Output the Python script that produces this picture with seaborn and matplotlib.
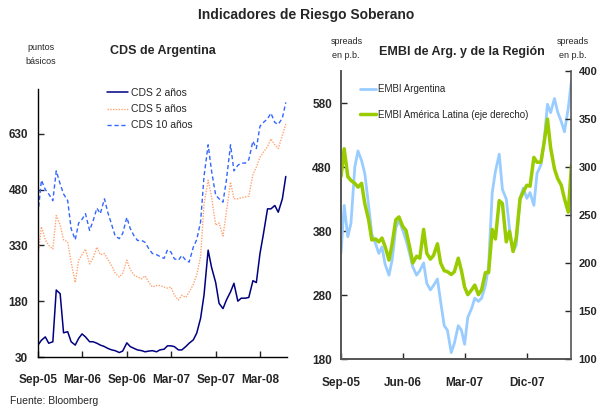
import pandas as pd
import seaborn as sns
from matplotlib import pyplot as plt

sns.set_style("ticks")
plt.rcParams['font.family'] = ['Liberation Sans', 'DejaVu Sans']

# quincenas (1 y 15 de cada mes) de sep-05 a jun-08
fechas = pd.date_range("2005-09-01", periods=68, freq="SMS")

cds_2 = [62, 75, 84, 67, 71, 210, 200, 95, 98, 71, 62, 80, 92, 84, 71, 71, 67, 62,
         58, 53, 49, 47, 42, 46, 68, 58, 53, 49, 47, 44, 46, 47, 44, 49, 51,
         60, 60, 58, 49, 49, 58, 67, 76, 94, 134, 196, 317, 271, 230, 174, 160,
         183, 205, 228, 180, 188, 188, 190, 235, 230, 308, 360, 428, 428, 437,
         419, 455, 515]
cds_5 = [300, 380, 345, 330, 320, 410, 385, 345, 339, 285, 230, 290, 305, 320,
         280, 295, 325, 305, 308, 292, 275, 255, 245, 255, 290, 265, 250, 245,
         240, 248, 230, 218, 222, 222, 218,
         215, 218, 196, 183, 196, 190, 205, 225, 250, 300, 440, 505, 460, 384,
         390, 355, 420, 500, 455, 455, 458, 460, 462, 520, 540, 567, 580, 595,
         616, 600, 590, 625, 656]
cds_10 = [415, 505, 480, 468, 450, 530, 495, 468, 450, 375, 345, 390, 400, 415,
          370, 395, 430, 415, 455, 418, 385, 355, 348, 362, 405, 375, 355, 343,
          343, 338, 320, 308, 305, 300, 295,
          318, 312, 294, 290, 303, 290, 285, 325, 345, 393, 515, 600, 530, 465,
          455, 446, 505, 600, 530, 545, 551, 551, 560, 610, 590, 650, 660, 670,
          685, 660, 655, 672, 714]

embi_arg = [345, 420, 371, 392, 480, 505, 490, 470, 420, 375, 360, 345, 355, 328,
            311, 335, 385, 397, 381, 366, 345, 324, 311, 318, 330, 298, 288, 295,
            305, 270, 232, 225, 190, 205, 232, 225, 203,
            245, 259, 275, 270, 275, 295, 325, 440, 473, 500, 445, 430, 385, 348,
            358, 431, 447, 431, 440, 420, 470, 483, 520, 578, 565, 587, 566, 551,
            535, 572, 615]
embi_latam = [290, 319, 290, 286, 283, 279, 283, 262, 245, 224, 225, 222, 226, 217,
              203, 220, 245, 248, 238, 234, 217, 200, 207, 205, 235, 210, 204, 208,
              220, 200, 192, 191, 188,
              191, 205, 192, 175, 167, 172, 177, 167, 172, 190, 190, 235, 225, 265,
              262, 222, 233, 212, 226, 267, 274, 281, 280, 310, 305, 305, 325, 350,
              320, 298, 288, 281, 267, 253, 302]

ticks_izq = ["2005-09-01", "2006-03-01", "2006-09-01", "2007-03-01", "2007-09-01", "2008-03-01"]
labels_izq = ["Sep-05", "Mar-06", "Sep-06", "Mar-07", "Sep-07", "Mar-08"]
ticks_der = ["2005-09-01", "2006-06-01", "2007-03-01", "2007-12-01"]
labels_der = ["Sep-05", "Jun-06", "Mar-07", "Dic-07"]

df_cds = pd.DataFrame({"fecha": fechas, "cds2": cds_2, "cds5": cds_5, "cds10": cds_10})
df_embi = pd.DataFrame({"fecha": fechas, "arg": embi_arg, "latam": embi_latam})

fig = plt.figure(figsize=(6, 4.09), dpi=100)

# --- CDS de Argentina ---
ax1 = fig.add_axes([38 / 600, 52 / 409, 249 / 600, 268 / 409])
sns.lineplot(data=df_cds, x="fecha", y="cds2", ax=ax1, color="#000080", lw=1.1,
             label="CDS 2 años", legend=False)
sns.lineplot(data=df_cds, x="fecha", y="cds5", ax=ax1, color="#FFA573", lw=1.0,
             ls=(0, (1, 1)), label="CDS 5 años", legend=False)
sns.lineplot(data=df_cds, x="fecha", y="cds10", ax=ax1, color="#3366FF", lw=1.0,
             ls=(0, (3, 2)), label="CDS 10 años", legend=False)
ax1.set_xlim(pd.Timestamp("2005-09-01"), pd.Timestamp("2008-06-20"))
ax1.set_ylim(30, 750)
ax1.set_yticks([30, 180, 330, 480, 630])
ax1.set_xticks(pd.to_datetime(ticks_izq), labels_izq)
ax1.set_xlabel("")
ax1.set_ylabel("")
for s in ["top", "right"]:
    ax1.spines[s].set_visible(False)
for s in ["left", "bottom"]:
    ax1.spines[s].set_color("black")
    ax1.spines[s].set_linewidth(1.0)
ax1.tick_params(axis="both", direction="in", length=4, width=1, labelsize=8.5)
ax1.tick_params(axis="x", pad=12)
ax1.tick_params(axis="y", pad=7)
for lab in ax1.get_xticklabels() + ax1.get_yticklabels():
    lab.set_fontweight("bold")
ax1.legend(loc="upper left", bbox_to_anchor=(107 / 600, 1 - 88 / 409),
           bbox_transform=fig.transFigure, frameon=False, fontsize=7.5,
           handlelength=2.0, handletextpad=0.3, labelspacing=0.6,
           borderpad=0, borderaxespad=0)

# --- EMBI de Arg. y de la Región ---
ax2 = fig.add_axes([341 / 600, 50 / 409, 230 / 600, 288 / 409])
sns.lineplot(data=df_embi, x="fecha", y="arg", ax=ax2, color="#99CCFF", lw=2.0,
             label="EMBI Argentina", legend=False)
ax3 = ax2.twinx()
sns.lineplot(data=df_embi, x="fecha", y="latam", ax=ax3, color="#99CC00", lw=2.5,
             label="EMBI América Latina (eje derecho)", legend=False)
ax2.set_xlim(pd.Timestamp("2005-09-01"), pd.Timestamp("2008-06-13"))
ax2.set_ylim(180, 630)
ax2.set_yticks([180, 280, 380, 480, 580])
ax3.set_ylim(100, 400)
ax3.set_yticks([100, 150, 200, 250, 300, 350, 400])
ax2.set_xticks(pd.to_datetime(ticks_der), labels_der)
for a in (ax2, ax3):
    a.set_xlabel("")
    a.set_ylabel("")
    a.spines["top"].set_visible(False)
    for s in ["left", "right", "bottom"]:
        a.spines[s].set_color("#555555")
        a.spines[s].set_linewidth(1.2)
    a.tick_params(axis="both", direction="in", length=4, width=1, labelsize=8.5)
ax2.spines["right"].set_visible(False)
ax2.tick_params(axis="x", pad=13)
ax2.tick_params(axis="y", pad=6.5)
ax3.tick_params(axis="y", pad=5.5, labelsize=8)
for lab in ax2.get_xticklabels() + ax2.get_yticklabels() + ax3.get_yticklabels():
    lab.set_fontweight("bold")
handles = ax2.get_lines()[:1] + ax3.get_lines()[:1]
fig.legend(handles, [h.get_label() for h in handles], loc="upper left",
           bbox_to_anchor=(360 / 600, 1 - 84 / 409), frameon=False, fontsize=7,
           handlelength=1.6, handletextpad=0.2, labelspacing=1.6,
           borderpad=0, borderaxespad=0)

# --- textos ---
fig.text(306 / 600, 1 - 15 / 409, "Indicadores de Riesgo Soberano", ha="center",
         va="center", fontsize=10, fontweight="bold")
fig.text(163 / 600, 1 - 51 / 409, "CDS de Argentina", ha="center", va="center",
         fontsize=9, fontweight="bold")
fig.text(462 / 600, 1 - 52 / 409, "EMBI de Arg. y de la Región", ha="center",
         va="center", fontsize=9, fontweight="bold")
fig.text(41 / 600, 1 - 48 / 409, "puntos", ha="center", va="center", fontsize=6.5)
fig.text(41 / 600, 1 - 62 / 409, "básicos", ha="center", va="center", fontsize=6.5)
fig.text(347 / 600, 1 - 41 / 409, "spreads", ha="center", va="center", fontsize=6.5)
fig.text(346 / 600, 1 - 56 / 409, "en p.b.", ha="center", va="center", fontsize=6.5)
fig.text(573 / 600, 1 - 41 / 409, "spreads", ha="center", va="center", fontsize=6.5)
fig.text(573 / 600, 1 - 56 / 409, "en p.b.", ha="center", va="center", fontsize=6.5)
fig.text(10 / 600, 1 - 401 / 409, "Fuente: Bloomberg", ha="left", va="center",
         fontsize=7.5)

fig.savefig("out.png", dpi=100)
